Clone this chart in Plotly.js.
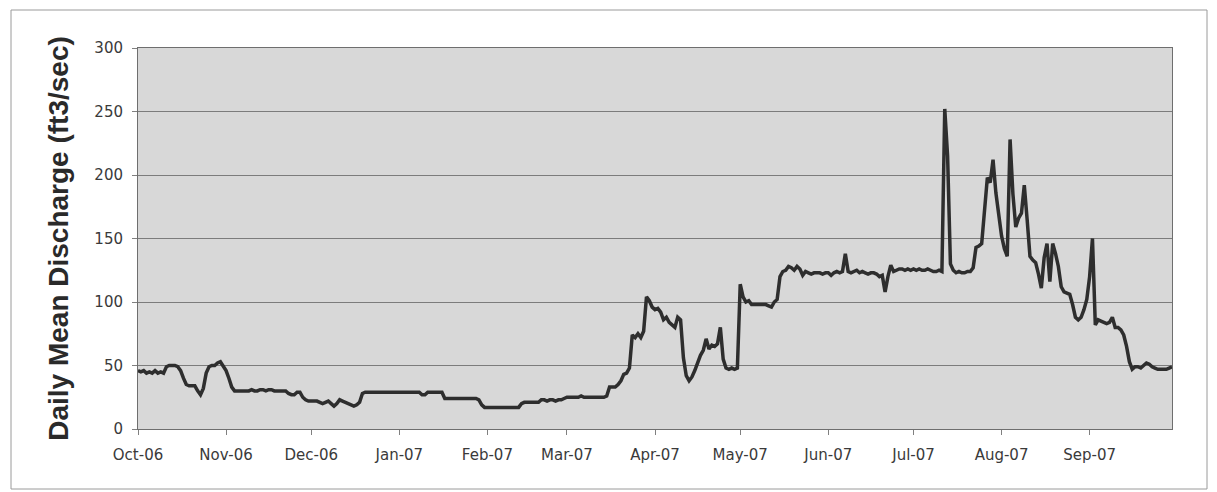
<!DOCTYPE html>
<html>
<head>
<meta charset="utf-8">
<script src="https://cdn.plot.ly/plotly-3.0.1.min.js"></script>
<style>
  html, body { margin: 0; padding: 0; background: #ffffff; }
  #chart { width: 1217px; height: 492px; }
</style>
</head>
<body>
<div id="chart"></div>
<script>
// Daily mean discharge (ft3/sec), water year Oct 2006 - Sep 2007, one value per day
const oct06 = [46,45,46,44,45,44,46,44,45,44, 49,50,50,50,49, 46,40,35,34,34,34,30,27,32, 44,49,50,50,52,53,50];
const nov06 = [46,40,33,30, 30,30,30,30,30,31,30,30,31,31,30,31,31,30,30,30,30,30, 28,27,27,29,29, 25,23,22];
const dec06 = [22,22,22,21,20,21,22,20,18,20,23,22,21,20,19,18,19,21,28, 29,29,29,29,29,29,29,29,29,29,29,29];
const jan07 = [29,29,29,29,29,29,29,29, 27,27, 29,29,29,29,29,29, 24,24,24,24,24,24,24,24,24,24,24,24, 23,19,17];
const feb07 = [17,17,17,17,17,17,17,17,17,17,17,17, 20, 21,21,21,21,21,21, 23,23,22,23,23,22,23,23,24];
const mar07 = [25,25,25,25,25,26,25,25,25,25,25,25,25,25,26, 33,33,33,35,38,43,44,48, 74,72,75,72,77, 104,101,96];
const apr07 = [94,95,92,86,88,84,82,80,88,86, 56,42,38,41,46,52,58,62,71,63, 66,65,67,80,55,48,47,48,47,48];
const may07 = [114,104,100,101,98,98,98,98,98,98,97,96,100,102, 120,124,125,128,127,125,128,126,121,124, 123,122,123,123,123,122,123];
const jun07 = [123,121,123,124,123,124,138,124,123,124, 125,123,124,123,122,123,123,122,120,121, 108,120,129,124,125,126,126,125,126,125];
const jul07 = [126,125,126,125,125,126,125,124,124,125, 124,252,215,130,125,123,124,123,123,124, 124,127,143,144,146,175,198,194,212,186,167];
const aug07 = [152,142,136,228,185,159,166,170,192,165, 136,133,131,122,111,135,146,116,146,138, 128,112,108,107,106,98,88,86,88,94,102];
const sep07 = [120,150,82,86,85,84,83,84,88,80, 80,78,74,65,53,47,49,49,48,50, 52,51,49,48,47,47,47,47,48,49];

const months = [
  {year: 2006, month: 10, values: oct06},
  {year: 2006, month: 11, values: nov06},
  {year: 2006, month: 12, values: dec06},
  {year: 2007, month: 1, values: jan07},
  {year: 2007, month: 2, values: feb07},
  {year: 2007, month: 3, values: mar07},
  {year: 2007, month: 4, values: apr07},
  {year: 2007, month: 5, values: may07},
  {year: 2007, month: 6, values: jun07},
  {year: 2007, month: 7, values: jul07},
  {year: 2007, month: 8, values: aug07},
  {year: 2007, month: 9, values: sep07}
];

const tickLabels = ["Oct-06","Nov-06","Dec-06","Jan-07","Feb-07","Mar-07","Apr-07","May-07","Jun-07","Jul-07","Aug-07","Sep-07"];

const pad = n => (n < 10 ? "0" : "") + n;
const x = [], y = [], tickvals = [];
months.forEach(m => {
  tickvals.push(m.year + "-" + pad(m.month) + "-01");
  m.values.forEach((v, i) => {
    x.push(m.year + "-" + pad(m.month) + "-" + pad(i + 1));
    y.push(v);
  });
});

const trace = {
  x: x, y: y, type: "scatter", mode: "lines",
  line: {color: "#2e2e2e", width: 3.5},
  hoverinfo: "x+y"
};

const tickFont = {family: "DejaVu Sans, Arial, sans-serif", size: 15, color: "#3a3a3a"};

const layout = {
  width: 1217, height: 492,
  margin: {l: 138, r: 45, t: 48, b: 63},
  paper_bgcolor: "#ffffff",
  plot_bgcolor: "#d8d8d8",
  showlegend: false,
  xaxis: {
    type: "date",
    range: ["2006-10-01", "2007-09-30"],
    tickmode: "array",
    tickvals: tickvals,
    ticktext: tickLabels,
    ticks: "outside", ticklen: 5, tickcolor: "#808080", tickwidth: 1,
    ticklabelstandoff: 7,
    showgrid: false,
    showline: true, linecolor: "#6e6e6e", linewidth: 1, mirror: true,
    zeroline: false,
    tickfont: tickFont,
    fixedrange: true
  },
  yaxis: {
    range: [0, 300],
    tickmode: "linear", tick0: 0, dtick: 50,
    ticks: "outside", ticklen: 5, tickcolor: "#808080", tickwidth: 1,
    ticklabelstandoff: 6,
    showgrid: true, gridcolor: "#7c7c7c", gridwidth: 1,
    showline: true, linecolor: "#6e6e6e", linewidth: 1, mirror: true,
    zeroline: false,
    tickfont: tickFont,
    title: {
      text: "Daily Mean Discharge (ft3/sec)",
      font: {family: "Liberation Sans, Arial, sans-serif", size: 28, color: "#2a2a2a", weight: "bold"},
      standoff: 17
    },
    automargin: false,
    fixedrange: true
  },
  shapes: [{
    type: "rect", xref: "paper", yref: "paper",
    x0: (11 - 138) / 1034, x1: (1207 - 138) / 1034,
    y0: (429 - 489) / 381, y1: (429 - 10) / 381,
    line: {color: "#9a9a9a", width: 1}, fillcolor: "rgba(0,0,0,0)", layer: "below"
  }]
};

Plotly.newPlot("chart", [trace], layout, {displayModeBar: false, staticPlot: true});
</script>
</body>
</html>
